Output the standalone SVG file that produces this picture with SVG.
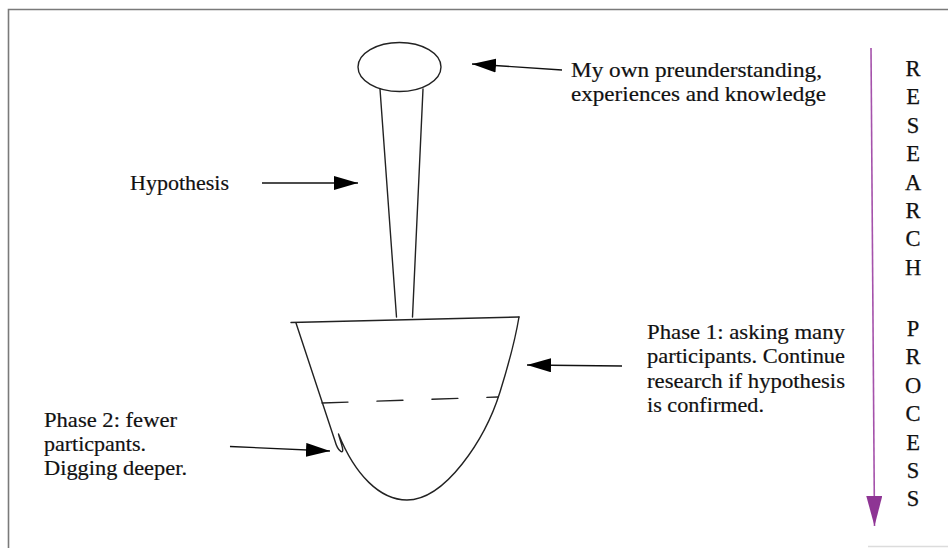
<svg xmlns="http://www.w3.org/2000/svg" width="948" height="548" viewBox="0 0 948 548">
<style>
.t{font-family:"Liberation Serif","Times New Roman",serif;font-size:22px;fill:#111;stroke:#111;stroke-width:0.2}
.s{fill:none;stroke:#222;stroke-width:1.4;stroke-linecap:round;stroke-linejoin:round}
.a{fill:none;stroke:#111;stroke-width:1.4}
.v{font-family:"Liberation Serif","Times New Roman",serif;font-size:22.5px;fill:#111;stroke:#111;stroke-width:0.25;text-anchor:middle}
</style>
<defs>
<marker id="ah" markerUnits="userSpaceOnUse" markerWidth="26" markerHeight="16" refX="24" refY="7" orient="auto">
<path d="M0,0 L24,7 L0,14 Z" fill="#000"/>
</marker>
<marker id="ap" markerUnits="userSpaceOnUse" markerWidth="32" markerHeight="18" refX="30" refY="8" orient="auto">
<path d="M0,0 L30,8 L0,16 Z" fill="#8e3594"/>
</marker>
</defs>
<rect width="948" height="548" fill="#fff"/>
<g id="frame">
<path d="M8.5,548 L8.5,9.5 L948,9.5" fill="none" stroke="#7a7a7a" stroke-width="1.6"/>
<path d="M868,546.5 L948,546.5" stroke="#dcdcdc" stroke-width="1.5"/>
</g>
<g id="preunderstanding-ellipse">
<ellipse cx="399.5" cy="67" rx="41.5" ry="24.5" class="s"/>
</g>
<g id="hypothesis-stem">
<path d="M380,89 L396.5,317" class="s"/>
<path d="M423,89 L412.5,317" class="s"/>
</g>
<g id="research-bowl">
<path d="M291,322.5 L519,317" class="s"/>
<path d="M296,323 L335,441 C338,452 345,456 342,446 C341,442 339,437 338.5,434 C355,475 380,500 407,500 C445,500 485,440 500,392 C510,360 516,335 519,317" class="s"/>
<path d="M322,403 L498,397" class="s" stroke-dasharray="26 29" stroke-linecap="butt"/>
</g>
<g id="label-preunderstanding">
<text class="t" x="571" y="77" textLength="251" lengthAdjust="spacingAndGlyphs">My own preunderstanding,</text>
<text class="t" x="571" y="101" textLength="255" lengthAdjust="spacingAndGlyphs">experiences and knowledge</text>
</g>
<g id="label-hypothesis">
<text class="t" x="130" y="190" textLength="99" lengthAdjust="spacingAndGlyphs">Hypothesis</text>
</g>
<g id="label-phase1">
<text class="t" x="647" y="339" textLength="198" lengthAdjust="spacingAndGlyphs">Phase 1: asking many</text>
<text class="t" x="647" y="363" textLength="198" lengthAdjust="spacingAndGlyphs">participants. Continue</text>
<text class="t" x="647" y="388" textLength="198" lengthAdjust="spacingAndGlyphs">research if hypothesis</text>
<text class="t" x="647" y="412" textLength="117" lengthAdjust="spacingAndGlyphs">is confirmed.</text>
</g>
<g id="label-phase2">
<text class="t" x="44" y="427" textLength="133" lengthAdjust="spacingAndGlyphs">Phase 2: fewer</text>
<text class="t" x="44" y="451" textLength="102" lengthAdjust="spacingAndGlyphs">particpants.</text>
<text class="t" x="44" y="475" textLength="143" lengthAdjust="spacingAndGlyphs">Digging deeper.</text>
</g>
<g id="label-research-process">
<text class="v" x="913" y="76">R</text>
<text class="v" x="913" y="104.4">E</text>
<text class="v" x="913" y="132.8">S</text>
<text class="v" x="913" y="161.2">E</text>
<text class="v" x="913" y="189.6">A</text>
<text class="v" x="913" y="218">R</text>
<text class="v" x="913" y="246.4">C</text>
<text class="v" x="913" y="274.8">H</text>
<text class="v" x="913" y="336">P</text>
<text class="v" x="913" y="364.4">R</text>
<text class="v" x="913" y="392.8">O</text>
<text class="v" x="913" y="421.2">C</text>
<text class="v" x="913" y="449.6">E</text>
<text class="v" x="913" y="478">S</text>
<text class="v" x="913" y="506.4">S</text>
</g>
<g id="connectors">
<path d="M562,70 L472,64" class="a" marker-end="url(#ah)"/>
<path d="M262,183 L358,183" class="a" marker-end="url(#ah)"/>
<path d="M622,366 L527,365" class="a" marker-end="url(#ah)"/>
<path d="M230,446.5 L330,451" class="a" marker-end="url(#ah)"/>
<path d="M871,48 L874.5,526" fill="none" stroke="#a552ab" stroke-width="1.6" marker-end="url(#ap)"/>
</g>
</svg>
